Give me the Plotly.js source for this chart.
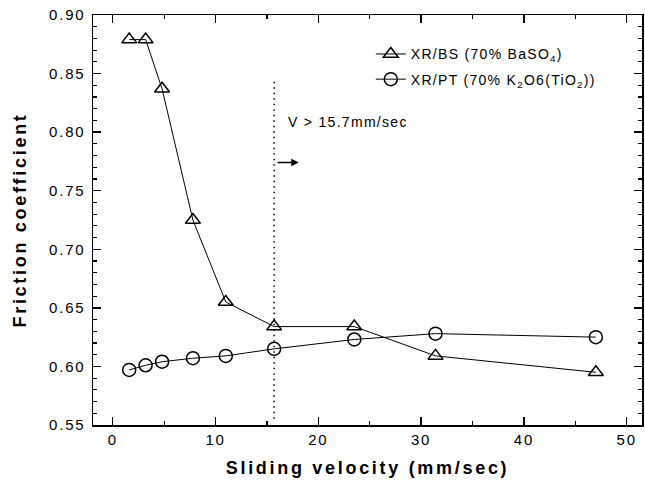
<!DOCTYPE html>
<html>
<head>
<meta charset="utf-8">
<script src="https://cdn.plot.ly/plotly-3.0.1.min.js"></script>
<style>
html,body{margin:0;padding:0;background:#fff;}
#chart{width:645px;height:483px;}
.xtitle, .ytitle{letter-spacing:2.7px;}
.xtick text, .ytick text{letter-spacing:1.8px;}
.legendtext, .annotation-text{letter-spacing:1.3px;}
</style>
</head>
<body>
<div id="chart"></div>
<script>
// Data
const bsVelocity = [1.6, 3.2, 4.8, 7.8, 11.0, 15.7, 23.5, 31.4, 47.0];
const bsFriction = [0.879, 0.879, 0.837, 0.725, 0.655, 0.634, 0.634, 0.609, 0.595];
const ptVelocity = [1.6, 3.2, 4.8, 7.8, 11.0, 15.7, 23.5, 31.4, 47.0];
const ptFriction = [0.597, 0.601, 0.604, 0.607, 0.609, 0.615, 0.623, 0.628, 0.625];
const seriesNames = ['XR/BS (70% BaSO<sub>4</sub>)', 'XR/PT (70% K<sub>2</sub>O6(TiO<sub>2</sub>))'];
const thresholdVelocity = 15.7;
const thresholdLabel = 'V > 15.7mm/sec';

const FONT = 'Liberation Sans, Arial, Helvetica, sans-serif';

const traces = [
  {
    x: bsVelocity, y: bsFriction, name: seriesNames[0], legendgroup: 'bs', type: 'scatter', mode: 'lines+markers',
    line: {color: '#000', width: 1},
    marker: {symbol: 'triangle-up-open', size: 13, color: '#000', line: {width: 1.5, color: '#000'}}
  },
  {
    x: ptVelocity, y: ptFriction, name: seriesNames[1], legendgroup: 'pt', type: 'scatter', mode: 'lines+markers',
    line: {color: '#000', width: 1},
    marker: {symbol: 'circle-open', size: 13, color: '#000', line: {width: 1.5, color: '#000'}}
  }
];

const layout = {
  width: 645, height: 483,
  margin: {l: 93, r: 3, t: 15, b: 58},
  paper_bgcolor: '#fff', plot_bgcolor: '#fff',
  font: {family: FONT, color: '#000', size: 14},
  showlegend: true,
  legend: {
    x: 0.506, y: 0.943, xanchor: 'left', yanchor: 'top',
    bgcolor: 'rgba(0,0,0,0)', borderwidth: 0,
    font: {family: FONT, size: 14, color: '#000'},
    tracegroupgap: 4
  },
  xaxis: {
    range: [-1.92, 51.49], showgrid: false, zeroline: false,
    showline: true, linecolor: '#000', linewidth: 1.5, mirror: 'allticks',
    ticks: 'inside', ticklen: 8, tickwidth: 1.5, tickcolor: '#000',
    tick0: 0, dtick: 10,
    minor: {ticks: 'inside', ticklen: 4, tickwidth: 1.2, tickcolor: '#000', dtick: 5, tick0: 0, showgrid: false},
    tickfont: {family: FONT, size: 15},
    title: {text: 'Sliding velocity (mm/sec)', font: {family: FONT, size: 18, weight: 'bold'}, standoff: 15}
  },
  yaxis: {
    range: [0.55, 0.90], showgrid: false, zeroline: false,
    showline: true, linecolor: '#000', linewidth: 1.5, mirror: 'allticks',
    ticks: 'inside', ticklen: 8, tickwidth: 1.5, tickcolor: '#000',
    tick0: 0.55, dtick: 0.05, tickformat: '.2f', ticklabelstandoff: 3,
    minor: {ticks: 'inside', ticklen: 4, tickwidth: 1.2, tickcolor: '#000', dtick: 0.01, tick0: 0.55, showgrid: false},
    tickfont: {family: FONT, size: 15},
    title: {text: 'Friction coefficient', font: {family: FONT, size: 18, weight: 'bold'}, standoff: 18}
  },
  shapes: [
    {type: 'line', xref: 'x', yref: 'y', x0: thresholdVelocity, x1: thresholdVelocity, y0: 0.843, y1: 0.553,
     line: {color: '#000', width: 1.5, dash: '1.5px,4px'}}
  ],
  annotations: [
    {x: 16.9, y: 0.809, xref: 'x', yref: 'y', text: thresholdLabel, showarrow: false,
     xanchor: 'left', yanchor: 'middle', font: {family: FONT, size: 14, color: '#000'}},
    {x: 18.1, y: 0.774, ax: 15.9, ay: 0.774, xref: 'x', yref: 'y', axref: 'x', ayref: 'y',
     text: '', showarrow: true, arrowhead: 2, arrowsize: 1, arrowwidth: 1.5, arrowcolor: '#000'}
  ]
};

Plotly.newPlot('chart', traces, layout, {staticPlot: true, displayModeBar: false});
</script>
</body>
</html>
